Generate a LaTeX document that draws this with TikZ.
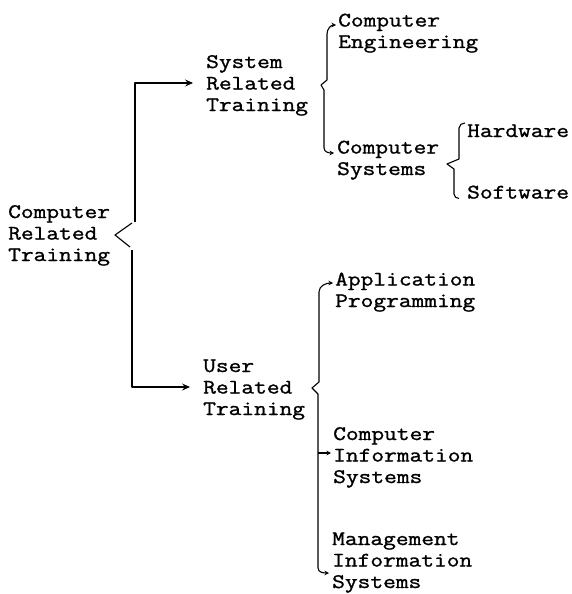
\documentclass[tikz,border=0pt]{standalone}
\usepackage{fontspec}
\setmonofont{Latin Modern Mono}[FakeStretch=1.2,FakeBold=1.2]
\usetikzlibrary{arrows.meta,calc}
\begin{document}
\begin{tikzpicture}[x=1pt,y=1pt,
  label text/.style={font=\ttfamily\fontsize{20.6pt}{21.5pt}\selectfont, align=left, inner sep=0pt, anchor=base west},
  line/.style={line width=1.1pt, line join=round},
  mainarrow/.style={line, -{Stealth[length=8pt,width=7pt,inset=3pt]}},
  hookarrows/.style={line, {Stealth[length=4.5pt,width=4.5pt,inset=1.5pt]}-{Stealth[length=4.5pt,width=4.5pt,inset=1.5pt]}},
  hookarrow/.style={line, -{Stealth[length=4.5pt,width=4.5pt,inset=1.5pt]}}]
\useasboundingbox (0,0) rectangle (572,-594);

% labels, placed by the baseline of their last line
\node[label text] (root) at (8,-261) {Computer\\Related\\Training};
\node[label text] (sys)  at (206,-111) {System\\Related\\Training};
\node[label text] (usr)  at (203,-415) {User\\Related\\Training};
\node[label text] (ce)   at (338,-48) {Computer\\Engineering};
\node[label text] (cs)   at (337,-175) {Computer\\Systems};
\node[label text] (hw)   at (467,-137) {Hardware};
\node[label text] (sw)   at (467,-198.5) {Software};
\node[label text] (ap)   at (335,-307) {Application\\Programming};
\node[label text] (cis)  at (333,-483) {Computer\\Information\\Systems};
\node[label text] (mis)  at (332,-588) {Management\\Information\\Systems};

% split mark after the root label
\coordinate (rtop) at (132,-223);
\coordinate (rtip) at (115,-235);
\coordinate (rbot) at (130,-247);
\draw[line] (rtop) -- (rtip) -- (rbot);

% root branches
\coordinate (upstart) at (135,-222);
\coordinate (downstart) at (132,-250);
\coordinate (sysin) at (193,-83);
\coordinate (usrin) at (190,-387);
\draw[mainarrow] (upstart) |- (sysin);
\draw[mainarrow] (downstart) |- (usrin);

% system brace
\coordinate (cein) at (336,-25);
\coordinate (csin) at (334,-153);
\draw[hookarrows] (cein) to[out=180,in=90] (327,-34) -- (327,-80) -- (321,-85) -- (324,-90)
  -- (324,-148) to[out=-90,in=180] (csin);

% hardware / software bracket
\draw[line] (465,-123) to[out=180,in=90] (459,-128) -- (459,-159) -- (447,-164) -- (454,-169)
  -- (454,-194) to[out=-90,in=180] (459,-198.5);

% user brace
\coordinate (apin) at (333,-283);
\coordinate (cisin) at (331,-453);
\coordinate (misin) at (329,-573);
\draw[hookarrows] (apin) to[out=180,in=90] (319,-292) -- (319,-382) -- (312,-388) -- (318,-394)
  -- (318,-568) to[out=-90,in=180] (misin);
\draw[hookarrow] (318,-453) -- (cisin);
\end{tikzpicture}
\end{document}
